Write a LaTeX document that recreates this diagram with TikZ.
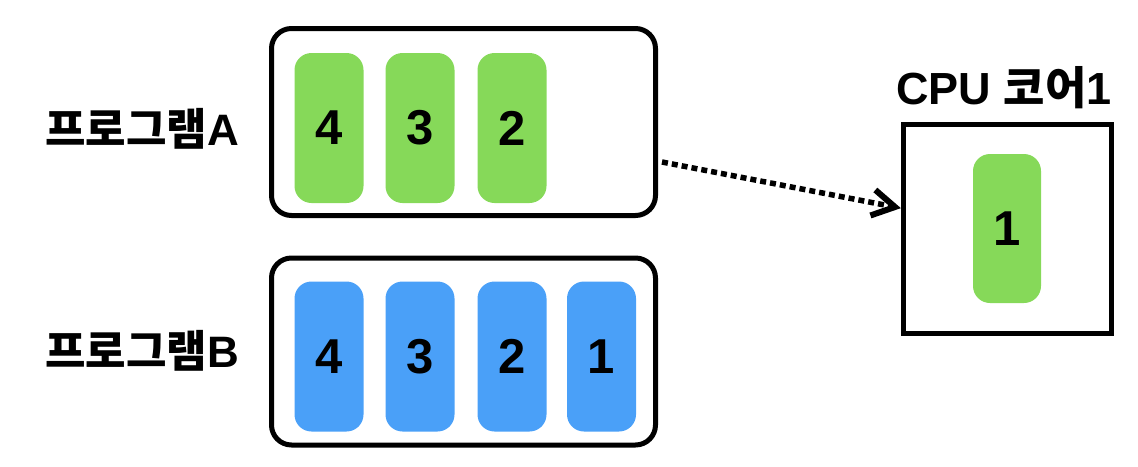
\documentclass[tikz,border=0pt]{standalone}
\usepackage{fontspec}
\setmainfont{Liberation Sans}
\newfontfamily\krfont{Noto Sans CJK KR}
\usetikzlibrary{calc}
\definecolor{progA}{RGB}{134,217,89}
\definecolor{progB}{RGB}{74,160,248}

\begin{document}
\begin{tikzpicture}[x=1pt,y=-1pt,
		box/.style={draw, line width=5pt, rounded corners=20pt, minimum width=384pt, minimum height=187pt},
		task/.style={rounded corners=17pt, minimum width=69pt, minimum height=150pt, inner sep=0pt, font=\fontsize{49}{49}\selectfont\bfseries},
		taskA/.style={task, fill=progA},
		taskB/.style={task, fill=progB},
		proglabel/.style={anchor=base east, inner sep=0pt, font=\fontsize{44}{44}\selectfont\bfseries}]
		\useasboundingbox (0,0) rectangle (1138,466);
		
		% programs
		\node[box] (boxA) at (463.5,122) {};
		\node[box] (boxB) at (463.5,351.5) {};
		\node[proglabel] (labA) at (239,145) {{\krfont 프로그램}A};
		\node[proglabel] (labB) at (239,367) {{\krfont 프로그램}B};
		
		\node[taskA] (a4) at (329,128) {4};
		\node[taskA] (a3) at (420,128) {3};
		\node[taskA] (a2) at (512,128) {2};
		
		\node[taskB] (b4) at (329,356.5) {4};
		\node[taskB] (b3) at (420,356.5) {3};
		\node[taskB] (b2) at (512,356.5) {2};
		\node[taskB] (b1) at (601.5,356.5) {1};
		
		% cpu core
		\node[draw, line width=5pt, minimum width=208pt, minimum height=209pt] (cpu) at (1007.5,229) {};
		\node[anchor=base, inner sep=0pt, font=\fontsize{45}{45}\selectfont\bfseries] (cpulab) at (1004,104) {CPU {\krfont 코어}1};
		\node[taskA, minimum width=68pt, minimum height=149pt] (c1) at (1007,228.5) {1};
		
		% dotted arrow with open head
		\coordinate (tail) at ([xshift=4pt,yshift=-40pt]boxA.east);
		\coordinate (tip) at ([xshift=-6pt,yshift=22pt]cpu.west);
		\draw[line width=5.5pt, dash pattern=on 6pt off 4pt] (tail) -- ($(tip)!4pt!(tail)$);
		\draw[line width=6pt, miter limit=4] ($(tip)!26pt!30:(tail)$) -- (tip) -- ($(tip)!26pt!-30:(tail)$);
	\end{tikzpicture}
\end{document}
